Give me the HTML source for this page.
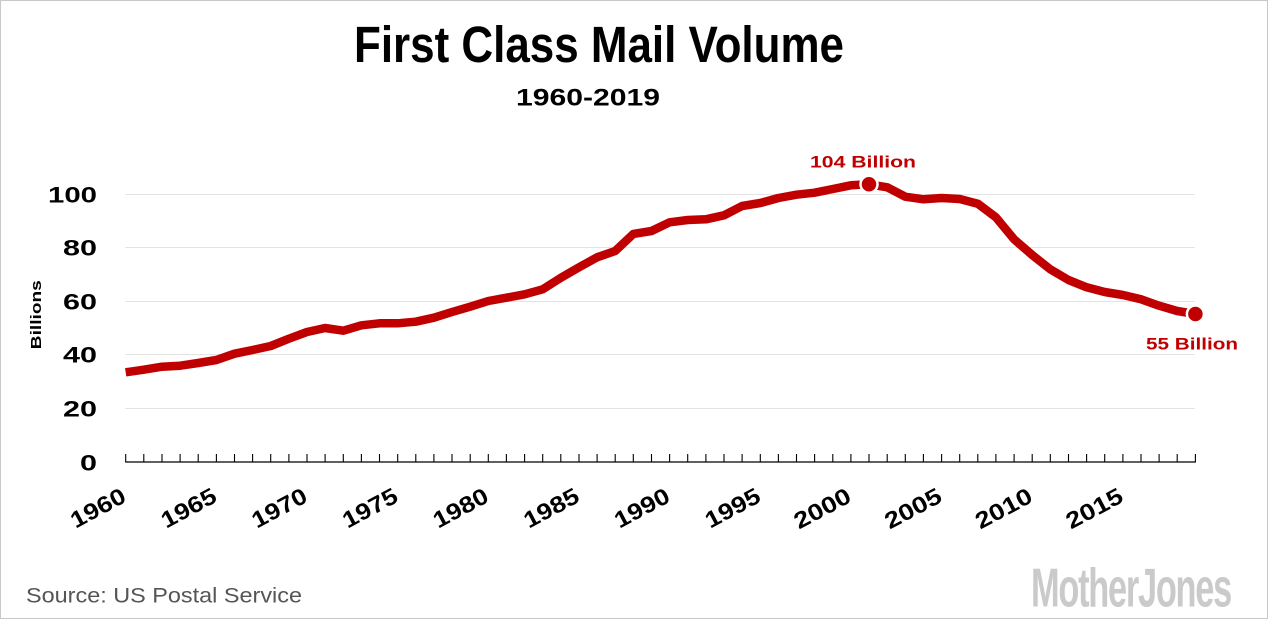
<!DOCTYPE html>
<html>
<head>
<meta charset="utf-8">
<style>
html,body{margin:0;padding:0;background:#fff;}
.wrap{width:1268px;height:619px;box-sizing:border-box;border:1px solid #c8c8c8;position:relative;overflow:hidden;background:#fff;}
svg{position:absolute;left:-1px;top:-1px;}
text{font-family:"Liberation Sans",Arial,sans-serif;}
</style>
</head>
<body>
<div class="wrap">
<svg width="1268" height="619" viewBox="0 0 1268 619" xmlns="http://www.w3.org/2000/svg">
  <!-- Title -->
  <text transform="translate(354,62) scale(1,1.16)" x="0" y="0" font-size="44" font-weight="bold" fill="#000" textLength="490" lengthAdjust="spacingAndGlyphs">First Class Mail Volume</text>
  <text transform="translate(516,105.7) scale(1,1.05)" x="0" y="0" font-size="23" font-weight="bold" fill="#000" textLength="144" lengthAdjust="spacingAndGlyphs">1960-2019</text>

  <!-- gridlines -->
  <g stroke="#e3e3e3" stroke-width="1">
    <line x1="125" y1="408.5" x2="1195" y2="408.5"/>
    <line x1="125" y1="354.5" x2="1195" y2="354.5"/>
    <line x1="125" y1="301.5" x2="1195" y2="301.5"/>
    <line x1="125" y1="247.5" x2="1195" y2="247.5"/>
    <line x1="125" y1="194.5" x2="1195" y2="194.5"/>
  </g>

  <!-- y labels -->
  <g font-size="22" font-weight="bold" fill="#000" text-anchor="end">
    <text x="97" y="470.3" textLength="17" lengthAdjust="spacingAndGlyphs">0</text>
    <text x="97" y="416.5" textLength="34" lengthAdjust="spacingAndGlyphs">20</text>
    <text x="97" y="362.5" textLength="34" lengthAdjust="spacingAndGlyphs">40</text>
    <text x="97" y="309.5" textLength="34" lengthAdjust="spacingAndGlyphs">60</text>
    <text x="97" y="255.5" textLength="34" lengthAdjust="spacingAndGlyphs">80</text>
    <text x="97" y="202.5" textLength="49" lengthAdjust="spacingAndGlyphs">100</text>
  </g>
  <text transform="translate(41,314.7) rotate(-90)" x="0" y="0" font-size="15" font-weight="bold" fill="#000" text-anchor="middle" textLength="69" lengthAdjust="spacingAndGlyphs">Billions</text>

  <!-- x axis -->
  <line x1="125.2" y1="462" x2="1195.9" y2="462" stroke="#000" stroke-width="1.3"/>
  <g stroke="#000" stroke-width="1.1">
    <path d="M125.7 454V462M143.8 454V462M162 454V462M180.1 454V462M198.2 454V462M216.4 454V462M234.5 454V462M252.6 454V462M270.7 454V462M288.9 454V462M307 454V462M325.1 454V462M343.3 454V462M361.4 454V462M379.5 454V462M397.7 454V462M415.8 454V462M433.9 454V462M452 454V462M470.2 454V462M488.3 454V462M506.4 454V462M524.6 454V462M542.7 454V462M560.8 454V462M579 454V462M597.1 454V462M615.2 454V462M633.3 454V462M651.5 454V462M669.6 454V462M687.7 454V462M705.9 454V462M724 454V462M742.1 454V462M760.3 454V462M778.4 454V462M796.5 454V462M814.6 454V462M832.8 454V462M850.9 454V462M869 454V462M887.2 454V462M905.3 454V462M923.4 454V462M941.6 454V462M959.7 454V462M977.8 454V462M995.9 454V462M1014.1 454V462M1032.2 454V462M1050.3 454V462M1068.5 454V462M1086.6 454V462M1104.7 454V462M1122.9 454V462M1141 454V462M1159.1 454V462M1177.2 454V462M1195.4 454V462"/>
  </g>

  <!-- x labels -->
  <g font-size="23" font-weight="bold" fill="#000" text-anchor="end">
    <text transform="translate(127.7,501) rotate(-28)" textLength="59" lengthAdjust="spacingAndGlyphs">1960</text>
    <text transform="translate(218.4,501) rotate(-28)" textLength="59" lengthAdjust="spacingAndGlyphs">1965</text>
    <text transform="translate(309,501) rotate(-28)" textLength="59" lengthAdjust="spacingAndGlyphs">1970</text>
    <text transform="translate(399.7,501) rotate(-28)" textLength="59" lengthAdjust="spacingAndGlyphs">1975</text>
    <text transform="translate(490.3,501) rotate(-28)" textLength="59" lengthAdjust="spacingAndGlyphs">1980</text>
    <text transform="translate(581,501) rotate(-28)" textLength="59" lengthAdjust="spacingAndGlyphs">1985</text>
    <text transform="translate(671.6,501) rotate(-28)" textLength="59" lengthAdjust="spacingAndGlyphs">1990</text>
    <text transform="translate(762.3,501) rotate(-28)" textLength="59" lengthAdjust="spacingAndGlyphs">1995</text>
    <text transform="translate(852.9,501) rotate(-28)" textLength="61" lengthAdjust="spacingAndGlyphs">2000</text>
    <text transform="translate(943.6,501) rotate(-28)" textLength="61" lengthAdjust="spacingAndGlyphs">2005</text>
    <text transform="translate(1034.2,501) rotate(-28)" textLength="61" lengthAdjust="spacingAndGlyphs">2010</text>
    <text transform="translate(1124.9,501) rotate(-28)" textLength="61" lengthAdjust="spacingAndGlyphs">2015</text>
  </g>

  <!-- data line -->
  <polyline fill="none" stroke="#c00000" stroke-width="8.5" stroke-linejoin="round" stroke-linecap="butt"
    points="125.7,372.3 143.8,369.7 162,366.7 180.1,365.7 198.2,363 216.4,360 234.5,353.7 252.6,350 270.7,346 288.9,338.7 307,332 325.1,328 343.3,330.7 361.4,325.3 379.5,323.3 397.7,323.3 415.8,321.7 433.9,317.7 452,312 470.2,306.7 488.3,301 506.4,297.7 524.6,294.3 542.7,289.3 560.8,277.8 579,267.3 597.1,257.3 615.2,251 633.3,234 651.5,231 669.6,222.3 687.7,220 705.9,219.3 724,215.3 742.1,206 760.3,203 778.4,198 796.5,194.7 814.6,192.7 832.8,189 850.9,185.3 869,184.3 887.2,187.3 905.3,196.7 923.4,199.3 941.6,198 959.7,199 977.8,203.7 995.9,217.3 1014.1,239.3 1032.2,255 1050.3,269.3 1068.5,280 1086.6,287.3 1104.7,292 1122.9,295 1141,299.3 1159.1,305.7 1177.2,311 1195.4,314"/>

  <!-- end dots -->
  <circle cx="869" cy="184.2" r="8.5" fill="#c00000" stroke="#fff" stroke-width="2.5"/>
  <circle cx="1195.4" cy="314" r="8.5" fill="#c00000" stroke="#fff" stroke-width="2.5"/>

  <!-- annotations -->
  <text x="810" y="167.3" font-size="17" font-weight="bold" fill="#c00000" textLength="106" lengthAdjust="spacingAndGlyphs">104 Billion</text>
  <text x="1146" y="349.3" font-size="17" font-weight="bold" fill="#c00000" textLength="92" lengthAdjust="spacingAndGlyphs">55 Billion</text>

  <!-- source -->
  <text x="26" y="602.7" font-size="21" fill="#555" textLength="276" lengthAdjust="spacingAndGlyphs">Source: US Postal Service</text>

  <!-- logo -->
  <text x="1031" y="606.5" font-size="55" font-weight="bold" fill="#cacaca" textLength="200" lengthAdjust="spacingAndGlyphs" style="font-family:'Liberation Sans Narrow','Liberation Sans',sans-serif;letter-spacing:-2px">MotherJones</text>
</svg>
</div>
</body>
</html>
